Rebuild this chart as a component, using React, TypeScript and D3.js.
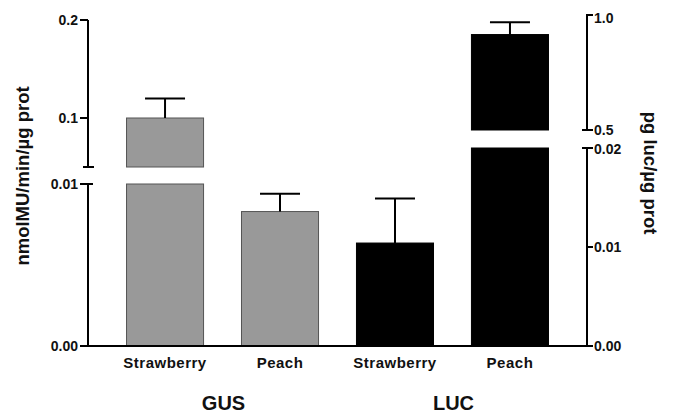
import React from 'react';
import * as d3 from 'd3';

// bar data
const ids = ['gus-straw', 'gus-peach', 'luc-straw', 'luc-peach'];
const labels = ['Strawberry', 'Peach', 'Strawberry', 'Peach'];
const groups = ['GUS', 'GUS', 'LUC', 'LUC'];
const axisSide = ['left', 'left', 'right', 'right'];
const values = [0.1, 0.0083, 0.0104, 0.915];
const errTops = [0.12, 0.0094, 0.0149, 0.969];
const colors = ['#999999', '#999999', '#000000', '#000000'];

const groupNames = ['GUS', 'LUC'];
const leftUpperTicks = [0.2, 0.1];
const leftLowerTicks = [0.01, 0.0];
const rightUpperTicks = [1.0, 0.5];
const rightLowerTicks = [0.02, 0.01, 0.0];

const W = 673;
const H = 413;
const axL = 88;
const axR = 587;
const base = 346;

export default function App() {
  // broken y scales, one pair per side
  const leftUpper = d3.scaleLinear().domain([0.05, 0.2]).range([167, 20]);
  const leftLower = d3.scaleLinear().domain([0, 0.01]).range([base, 184]);
  const rightUpper = d3.scaleLinear().domain([0.5, 1.0]).range([130, 15]);
  const rightLower = d3.scaleLinear().domain([0, 0.02]).range([base, 148]);

  const x = d3.scaleBand().domain(ids).range([axL, axR]).paddingInner(0.33).paddingOuter(0.335);
  const bw = x.bandwidth();

  const font = 'Liberation Sans, Arial, Helvetica, sans-serif';

  // y position of a value on a broken axis pair
  const yOn = (side: string, v: number) => {
    const up = side === 'left' ? leftUpper : rightUpper;
    const lo = side === 'left' ? leftLower : rightLower;
    return v > lo.domain()[1] ? up(v) : lo(v);
  };

  const fmtL = (v: number) => (v >= 0.1 ? d3.format('.1f')(v) : d3.format('.2f')(v));
  const fmtR = (v: number) => (v >= 0.5 ? d3.format('.1f')(v) : d3.format('.2f')(v));

  // right tick labels sit a bit off their ticks in the figure
  const rightUpperDy = (t: number) => (t === 0.5 ? 5 : 8);
  const rightLowerDy = (t: number) => (t === 0.02 ? 6 : 5);

  return (
    <svg width={W} height={H} style={{ position: 'absolute', left: 0, top: 0, background: '#fff' }}>
      {/* bars */}
      {ids.map((id, i) => {
        const side = axisSide[i];
        const up = side === 'left' ? leftUpper : rightUpper;
        const lo = side === 'left' ? leftLower : rightLower;
        const x0 = x(id) as number;
        const v = values[i];
        const stroke = colors[i] === '#000000' ? '#000' : '#555';
        const cx = x0 + bw / 2;
        return (
          <g key={id}>
            {v > lo.domain()[1] ? (
              <>
                <rect x={x0} y={up(v)} width={bw} height={up(up.domain()[0]) - up(v)}
                  fill={colors[i]} stroke={stroke} strokeWidth={1} />
                <rect x={x0} y={lo(lo.domain()[1])} width={bw} height={base - lo(lo.domain()[1])}
                  fill={colors[i]} stroke={stroke} strokeWidth={1} />
              </>
            ) : (
              <rect x={x0} y={lo(v)} width={bw} height={base - lo(v)}
                fill={colors[i]} stroke={stroke} strokeWidth={1} />
            )}
            {/* error bar */}
            <line x1={cx} x2={cx} y1={yOn(side, v)} y2={yOn(side, errTops[i])} stroke="#000" strokeWidth={2} />
            <line x1={cx - 20} x2={cx + 20} y1={yOn(side, errTops[i])} y2={yOn(side, errTops[i])} stroke="#000" strokeWidth={2} />
            <text x={cx} y={368} textAnchor="middle" fontFamily={font} fontWeight="bold" fontSize={15}
              letterSpacing={0.5} fill="#111">{labels[i]}</text>
          </g>
        );
      })}

      {/* group labels */}
      {groupNames.map(g => {
        const members = ids.filter((_, i) => groups[i] === g);
        const cx = ((x(members[0]) as number) + (x(members[members.length - 1]) as number) + bw) / 2;
        return (
          <text key={g} x={cx + 1} y={410} textAnchor="middle" fontFamily={font} fontWeight="bold"
            fontSize={20} fill="#111">{g}</text>
        );
      })}

      {/* baseline */}
      <line x1={axL - 8} x2={axR + 6} y1={base} y2={base} stroke="#000" strokeWidth={2} />

      {/* left axis */}
      <g stroke="#000" strokeWidth={2}>
        <line x1={axL} x2={axL} y1={leftUpper(0.2)} y2={leftUpper(0.05)} />
        <line x1={axL - 5} x2={axL + 6} y1={leftUpper(0.05)} y2={leftUpper(0.05)} />
        <line x1={axL} x2={axL} y1={leftLower(0.01)} y2={base} />
        <line x1={axL - 8} x2={axL + 5} y1={leftLower(0.01)} y2={leftLower(0.01)} />
        {leftUpperTicks.map(t => (
          <line key={t} x1={axL - 8} x2={axL} y1={leftUpper(t)} y2={leftUpper(t)} />
        ))}
      </g>
      {leftUpperTicks.map(t => (
        <text key={'lu' + t} x={axL - 10} y={leftUpper(t) + 5} textAnchor="end" fontFamily={font}
          fontWeight="bold" fontSize={14} fill="#111">{fmtL(t)}</text>
      ))}
      {leftLowerTicks.map(t => (
        <text key={'ll' + t} x={axL - 10} y={leftLower(t) + 5} textAnchor="end" fontFamily={font}
          fontWeight="bold" fontSize={14} fill="#111">{fmtL(t)}</text>
      ))}

      {/* right axis */}
      <g stroke="#000" strokeWidth={2}>
        <line x1={axR} x2={axR} y1={rightUpper(1.0)} y2={rightUpper(0.5)} />
        <line x1={axR} x2={axR} y1={rightLower(0.02)} y2={base} />
        <line x1={axR - 5} x2={axR + 6} y1={rightLower(0.02)} y2={rightLower(0.02)} />
        <line x1={axR - 5} x2={axR + 6} y1={rightUpper(0.5)} y2={rightUpper(0.5)} />
        <line x1={axR - 1} x2={axR + 6} y1={rightUpper(1.0)} y2={rightUpper(1.0)} />
        {rightLowerTicks.map(t => (
          <line key={t} x1={axR} x2={axR + 6} y1={rightLower(t)} y2={rightLower(t)} />
        ))}
      </g>
      {rightUpperTicks.map(t => (
        <text key={'ru' + t} x={axR + 7} y={rightUpper(t) + rightUpperDy(t)} fontFamily={font}
          fontWeight="bold" fontSize={14} fill="#111">{fmtR(t)}</text>
      ))}
      {rightLowerTicks.map(t => (
        <text key={'rl' + t} x={axR + 7} y={rightLower(t) + rightLowerDy(t)} fontFamily={font}
          fontWeight="bold" fontSize={14} fill="#111">{fmtR(t)}</text>
      ))}

      {/* axis titles */}
      <text transform={`translate(29,176) rotate(-90)`} textAnchor="middle" fontFamily={font}
        fontWeight="bold" fontSize={18.5} fill="#111">nmolMU/min/µg prot</text>
      <text transform={`translate(644,173) rotate(90)`} textAnchor="middle" fontFamily={font}
        fontWeight="bold" fontSize={18.5} fill="#111">pg luc/µg prot</text>
    </svg>
  );
}
